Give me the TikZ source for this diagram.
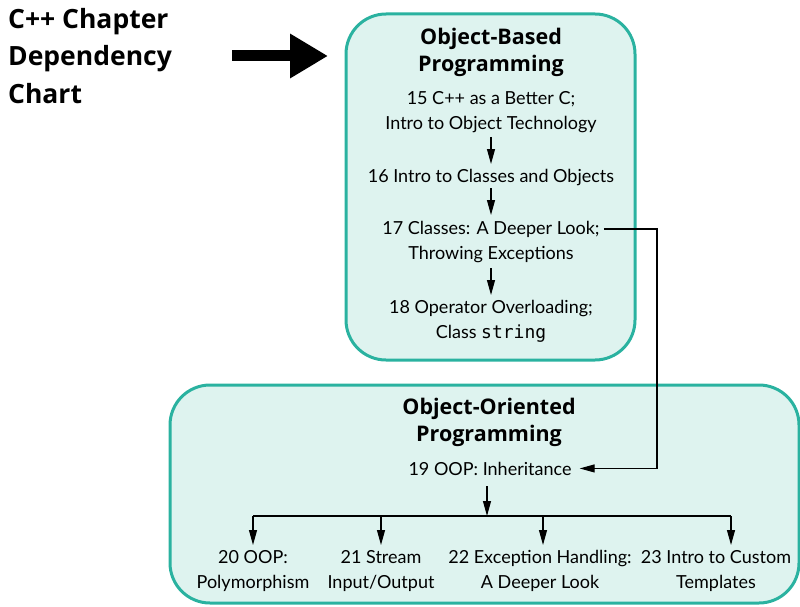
\documentclass[tikz,border=0pt]{standalone}
\usepackage{fontspec}
\setmainfont{Lato}
\setmonofont{DejaVu Sans Mono}
\newfontfamily\headfont{Open Sans}
\usetikzlibrary{arrows.meta}
\definecolor{boxfill}{RGB}{222,243,239}
\definecolor{boxline}{RGB}{42,178,160}
\begin{document}
\begin{tikzpicture}[x=1pt,y=-1pt,
  group/.style={draw=boxline, fill=boxfill, line width=3pt, rounded corners=40pt},
  topic/.style={align=center, font=\fontsize{18}{25}\selectfont, inner sep=0pt},
  head/.style={align=center, font=\headfont\fontsize{21.5}{27}\selectfont\bfseries, inner sep=0pt},
  arr/.style={-{Triangle[length=15pt,width=8pt]}, line width=1.1pt},
  link/.style={line width=1.1pt}]
\useasboundingbox (0,0) rectangle (800,607);
\draw[group] (346,14) rectangle (635,360);
\draw[group] (170,385) rectangle (799,603);

\node[anchor=north west, align=left, inner sep=0pt,
      font=\headfont\fontsize{26.5}{37.5}\selectfont\bfseries] (title) at (8,8)
      {C++ Chapter\\Dependency\\Chart};
\draw[line width=11pt, -{Triangle[length=38pt,width=42pt]}] (232,56) -- (328,56);

\node[head] (obp) at (491,52) {Object-Based\\Programming};
\node[topic] (n15) at (491,112) {15 C++ as a Better C;\\Intro to Object Technology};
\node[topic, anchor=base] (n16) at (491,182) {16 Intro to Classes and Objects};
\node[topic] (n17) at (491,242) {17 Classes: A Deeper Look;\\Throwing Exceptions};
\node[topic] (n18) at (491,321) {18 Operator Overloading;\\Class \texttt{string}};

\node[head] (oop) at (489,422) {Object-Oriented\\Programming};
\node[topic, anchor=base] (n19) at (490,475) {19 OOP: Inheritance};
\node[topic] (n20) at (253,571) {20 OOP:\\Polymorphism};
\node[topic] (n21) at (381,571) {21 Stream\\Input/Output};
\node[topic] (n22) at (540,571) {22 Exception Handling:\\A Deeper Look};
\node[topic] (n23) at (716,571) {23 Intro to Custom\\Templates};

\coordinate (rail) at (653,0);
\coordinate (split) at (487,516);

\draw[arr] (491,137) -- (491,164);
\draw[arr] (491,188) -- (491,215);
\draw[arr] (491,268) -- (491,295);

\draw[arr] ([xshift=4pt,yshift=13pt]n17.east) -- ([xshift=4pt,yshift=13pt]n17.east -| rail) |- ([xshift=8pt]n19.east);

\draw[arr] (split |- 0,486) -- (split);
\draw[link] (253,516) -- (731,516);
\foreach \x in {253,381,543,731} \draw[arr] (\x,516) -- (\x,545);
\end{tikzpicture}
\end{document}
